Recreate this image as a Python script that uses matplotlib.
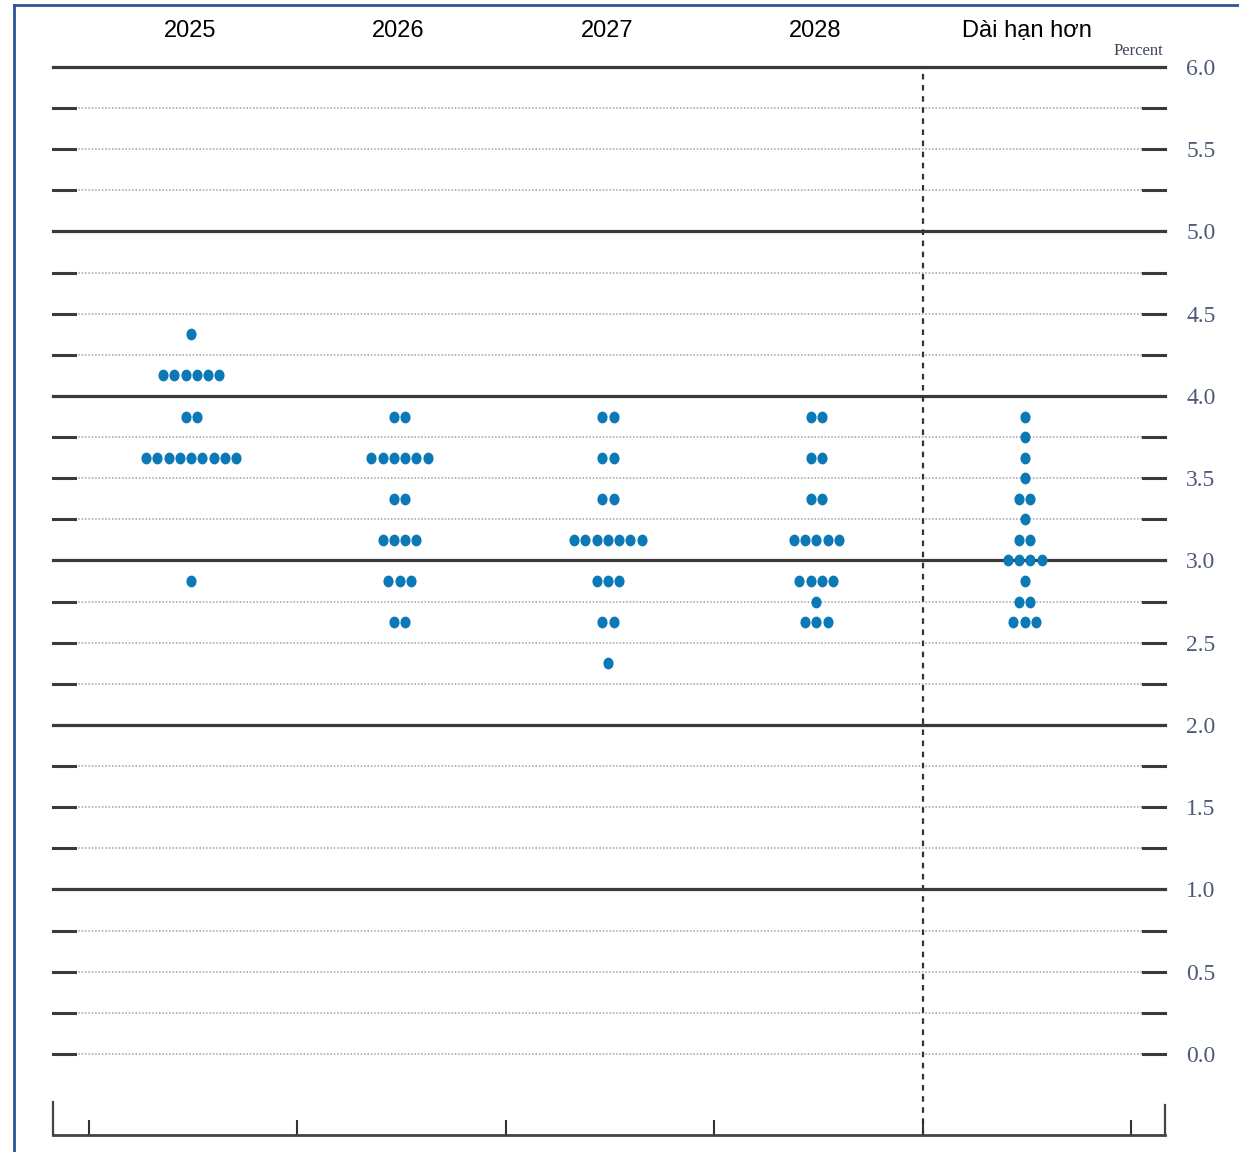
import matplotlib
matplotlib.use("Agg")
import matplotlib.pyplot as plt
import matplotlib.transforms as mtransforms
from matplotlib.lines import Line2D
from matplotlib.path import Path
import numpy as np

# dot plot data: (rate, number of participants) per column
columns = ["2025", "2026", "2027", "2028", "Dài hạn hơn"]
rates_2025 = [4.375, 4.125, 3.875, 3.625, 2.875]
counts_2025 = [1, 6, 2, 9, 1]
rates_2026 = [3.875, 3.625, 3.375, 3.125, 2.875, 2.625]
counts_2026 = [2, 6, 2, 4, 3, 2]
rates_2027 = [3.875, 3.625, 3.375, 3.125, 2.875, 2.625, 2.375]
counts_2027 = [2, 2, 2, 7, 3, 2, 1]
rates_2028 = [3.875, 3.625, 3.375, 3.125, 2.875, 2.75, 2.625]
counts_2028 = [2, 2, 2, 5, 4, 1, 3]
rates_lr = [3.875, 3.75, 3.625, 3.5, 3.375, 3.25, 3.125, 3.0, 2.875, 2.75, 2.625]
counts_lr = [1, 1, 1, 1, 2, 1, 2, 4, 1, 2, 3]

all_rates = [rates_2025, rates_2026, rates_2027, rates_2028, rates_lr]
all_counts = [counts_2025, counts_2026, counts_2027, counts_2028, counts_lr]

y_levels = np.arange(0, 6.01, 0.25)
y_labels = np.arange(0, 6.01, 0.5)

W, H = 1239, 1152
fig = plt.figure(figsize=(W / 100, H / 100), dpi=100)
ax = fig.add_axes([53 / W, 1 - 1135 / H, (1165 - 53) / W, (1135 - 67) / H])

xmin, xmax = 0.327, 5.663
ax.set_xlim(xmin, xmax)
ax.set_ylim(-0.4925, 6.0)

# grid lines
tick_len = 0.105
for y in y_levels:
    if abs(y - round(y)) < 1e-6 and y > 0:
        ax.plot([xmin, xmax], [y, y], color="#3a3a3a", lw=2.3, clip_on=False, zorder=2)
    else:
        ax.plot([xmin + tick_len, xmax - tick_len], [y, y], color="#a0a0a0", lw=1.1,
                linestyle=(0, (1, 1.2)), clip_on=False, zorder=1)
        ax.plot([xmin, xmin + tick_len], [y, y], color="#3a3a3a", lw=2.2, clip_on=False, zorder=2)
        ax.plot([xmax - tick_len, xmax], [y, y], color="#3a3a3a", lw=2.2, clip_on=False, zorder=2)

# separator before longer run
ax.plot([4.5, 4.5], [-0.4925, 6.0], color="#333333", lw=1.6, linestyle=(0, (2.5, 2.5)),
        clip_on=False, zorder=2)

# dots
ell = Path.unit_circle().transformed(mtransforms.Affine2D().scale(0.86, 1.0))
spacing = 0.054
for i, (rates, counts) in enumerate(zip(all_rates, all_counts)):
    center = i + 1 - 0.01
    for r, n in zip(rates, counts):
        xs = center + (np.arange(n) - (n - 1) / 2) * spacing
        ax.scatter(xs, [r] * n, s=72, marker=ell, color="#0a79b5", linewidths=0, zorder=5)

# column headers
for i, name in enumerate(columns):
    ax.text(i + 1 - 0.015 if i < 4 else i + 1, 6.0 + 0.22, name, ha="center", va="center",
            fontsize=17, family="Liberation Sans", color="black")

ax.text(5.655, 6.05, "Percent", ha="right", va="bottom", fontsize=12,
        family="Liberation Serif", color="#3c4560")

# right-side labels
for v in y_labels:
    ax.text(5.835, v - 0.015, f"{v:.1f}", ha="center", va="center", fontsize=17,
            family="Liberation Serif", color="#4f5a78")

# axes frame: only bottom plus short end ticks
ax.set_yticks([])
ax.set_xticks(np.arange(0.5, 5.51, 1.0))
ax.set_xticklabels([])
ax.tick_params(axis="x", direction="in", length=11, width=1.5, color="#333333")
ax.spines["top"].set_visible(False)
ax.spines["bottom"].set_color("#444444")
ax.spines["bottom"].set_linewidth(2)
ax.spines["left"].set_bounds(-0.4925, -0.29)
ax.spines["right"].set_bounds(-0.4925, -0.31)
for s in ["left", "right"]:
    ax.spines[s].set_color("#444444")
    ax.spines[s].set_linewidth(1.6)
ax.patch.set_alpha(0)

# blue frame around the picture
fig.add_artist(Line2D([14 / W, 1], [1 - 5 / H, 1 - 5 / H], color="#2e5496", lw=2))
fig.add_artist(Line2D([14 / W, 14 / W], [0, 1 - 5 / H], color="#2e5496", lw=2))

fig.savefig("out.png", dpi=100)
